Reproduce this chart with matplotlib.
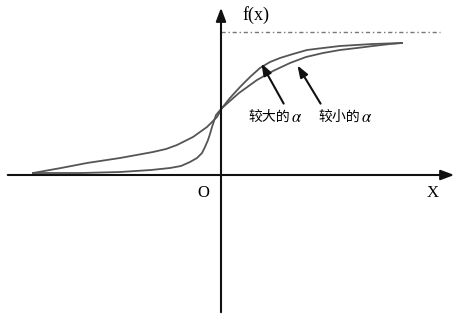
import numpy as np
import matplotlib
matplotlib.use('Agg')
import matplotlib.pyplot as plt

plt.rcParams['font.family'] = ['Liberation Serif', 'Noto Sans CJK SC', 'DejaVu Sans']
plt.rcParams['mathtext.fontset'] = 'stix'

# curve (x, f(x)), larger alpha = steeper in the middle
x_big = [-188, -140, -101, -70, -51, -40, -31, -24, -19, -16, -13, -11, -9, -5, 1, 9, 19, 29, 39, 49, 59, 72, 86, 102, 119, 135, 152, 181]
y_big = [2, 2, 3, 5, 7, 9, 13, 17, 22, 28, 35, 41, 48, 60, 67, 77, 88, 98, 107, 113, 117, 121, 125, 127, 129, 130, 131, 132]

# smaller alpha = flatter curve
x_small = [-188, -160, -134, -101, -68, -55, -44, -36, -28, -21, -14, -9, -4, 1, 18, 36, 52, 69, 85, 102, 119, 136, 152, 169, 181]
y_small = [2, 7, 12, 17, 23, 26, 30, 34, 38, 43, 48, 53, 58, 67, 82, 95, 104, 112, 118, 122, 125, 127, 129, 131, 132]

asymptote = 143

fig = plt.figure(figsize=(4.61, 3.17), dpi=100)
ax = fig.add_axes([0, 0, 1, 1])
ax.set_xlim(-221, 240)
ax.set_ylim(-142, 175)
ax.axis('off')

# axes with arrows
ax.annotate('', xy=(236, 0), xytext=(-216, 0),
            arrowprops=dict(arrowstyle='-|>,head_length=0.8,head_width=0.3', color='#111111', lw=1.5))
ax.annotate('', xy=(0, 170), xytext=(0, -140),
            arrowprops=dict(arrowstyle='-|>,head_length=0.8,head_width=0.3', color='#111111', lw=1.5))

ax.plot([0, 219], [asymptote, asymptote], color='#777777', lw=1.0, linestyle=(0, (3, 2, 1, 2)))

ax.plot(x_big, y_big, color='#555555', lw=1.3, solid_joinstyle='round')
ax.plot(x_small, y_small, color='#555555', lw=1.3, solid_joinstyle='round')

ax.text(21, 160, 'f(x)', fontsize=13, ha='left', va='center')
ax.text(-24, -18, 'O', fontsize=12, ha='left', va='center')
ax.text(206, -18, 'X', fontsize=12, ha='left', va='center')

cjk = ['Noto Sans CJK SC']
ax.text(27, 58, '较大的', fontsize=10, family=cjk, ha='left', va='center')
ax.text(70, 57, '$\\alpha$', fontsize=12, ha='left', va='center')
ax.text(97, 58, '较小的', fontsize=10, family=cjk, ha='left', va='center')
ax.text(140, 57, '$\\alpha$', fontsize=12, ha='left', va='center')

ax.annotate('', xy=(39, 114), xytext=(64, 69),
            arrowprops=dict(arrowstyle='-|>,head_length=0.7,head_width=0.25', color='#111111', lw=1.5))
ax.annotate('', xy=(75, 112), xytext=(101, 69),
            arrowprops=dict(arrowstyle='-|>,head_length=0.7,head_width=0.25', color='#111111', lw=1.5))

fig.savefig('out.png', dpi=100)
